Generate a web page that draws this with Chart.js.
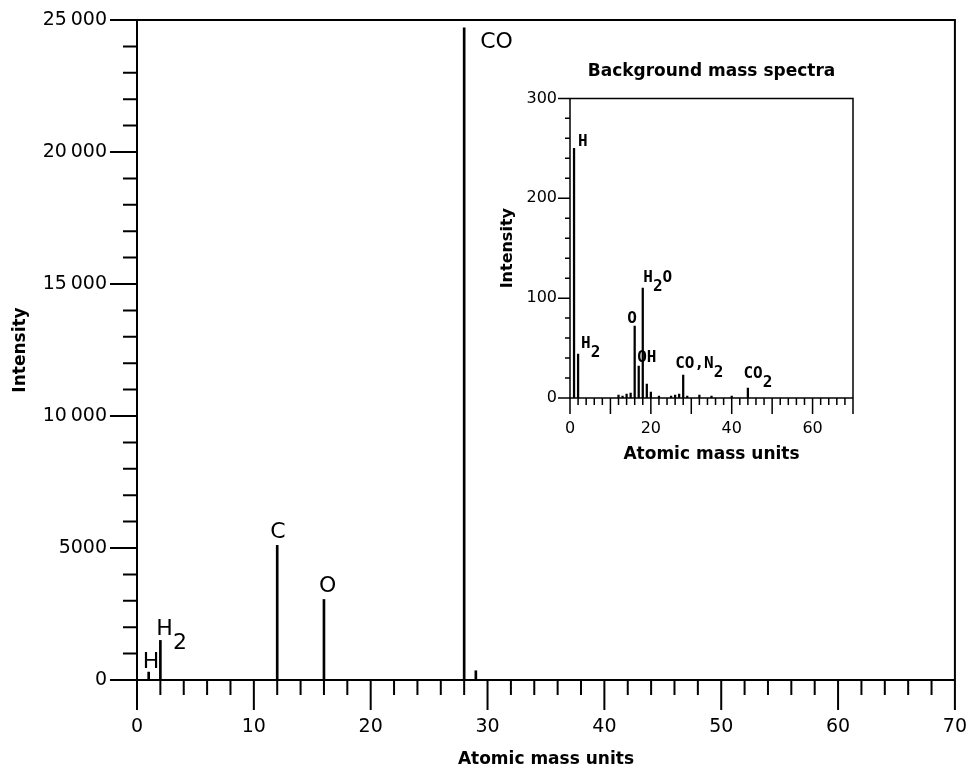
<!DOCTYPE html>
<html lang="en">
<head>
  <meta charset="UTF-8">
  <title>Mass spectrum with background inset</title>
  <script src="https://cdn.jsdelivr.net/npm/chart.js"></script>
  <style>
    html, body { margin: 0; padding: 0; background: #fff; }
    #wrap { position: relative; width: 973px; height: 772px; }
    #main { position: absolute; left: 0; top: 0; }
    #inset { position: absolute; left: 410px; top: 55px; }
  </style>
</head>
<body>
  <div id="wrap">
    <canvas id="main" width="973" height="772"></canvas>
    <canvas id="inset" width="460" height="420"></canvas>
  </div>
  <script>
    // main spectrum
    const massUnits = [1, 2, 12, 16, 28, 29];
    const intensity = [300, 1500, 5100, 3050, 24700, 350];
    const peakNames = ['H', 'H_2', 'C', 'O', 'CO', ''];
    const yTickValues = [0, 5000, 10000, 15000, 20000, 25000];
    const yTickLabels = ['0', '5000', '10\u2009000', '15\u2009000', '20\u2009000', '25\u2009000'];
    const xTickValues = [0, 10, 20, 30, 40, 50, 60, 70];
    const xTickLabels = ['0', '10', '20', '30', '40', '50', '60', '70'];

    // background spectrum (inset)
    const bgMassUnits = [1, 2, 12, 13, 14, 15, 16, 17, 18, 19, 20, 22, 25, 26, 27, 28, 29, 32, 35, 40, 44];
    const bgIntensity = [250, 44, 3, 2, 4, 5, 72, 32, 110, 14, 6, 2, 2, 3, 4, 23, 2, 3, 2, 2, 10];
    const bgPeakNames = ['H', 'H_2', '', '', '', '', 'O', 'OH', 'H_2O', '', '', '', '', '', '', 'CO,N_2', '', '', '', '', 'CO_2'];
    const bgYTickValues = [0, 100, 200, 300];
    const bgYTickLabels = ['0', '100', '200', '300'];
    const bgXTickValues = [0, 20, 40, 60];
    const bgXTickLabels = ['0', '20', '40', '60'];

    // label placement relative to the top of each stick [dx, dy]
    const mainLabelOffsets = { 'H': [-6, -4], 'H_2': [-4, -5], 'C': [-7, -7], 'O': [-5, -7], 'CO': [16, 20] };
    const bgLabelOffsets = { 'H': [4, -2], 'H_2': [3, -6], 'O': [-7.5, -3], 'OH': [-1.5, -4], 'H_2O': [0.5, -6], 'CO,N_2': [-8, -7], 'CO_2': [-4.5, -10] };

    function steps(min, max, step) {
      const out = [];
      for (let v = min; v <= max + 1e-9; v += step) out.push({ value: v });
      return out;
    }

    function drawRich(ctx, text, x, y, subShift) {
      let cx = x;
      text.split(/(_.)/).filter(Boolean).forEach(p => {
        const sub = p[0] === '_';
        const s = sub ? p.slice(1) : p;
        ctx.fillText(s, cx, sub ? y + subShift : y);
        cx += ctx.measureText(s).width;
      });
    }

    // frame, major/minor ticks and peak labels
    const spectrumFrame = {
      id: 'spectrumFrame',
      afterDatasetsDraw(chart, args, o) {
        const { ctx, chartArea: a } = chart;
        const x = chart.scales.x, y = chart.scales.y;
        ctx.save();
        ctx.strokeStyle = '#000';
        ctx.lineWidth = o.lineWidth;
        ctx.beginPath();
        ctx.rect(a.left, a.top, a.right - a.left, a.bottom - a.top);
        x.ticks.forEach(t => {
          const px = x.getPixelForValue(t.value);
          const len = t.value % o.xMajor === 0 ? o.xMajorLen : o.xMinorLen;
          ctx.moveTo(px, a.bottom);
          ctx.lineTo(px, a.bottom + len);
        });
        y.ticks.forEach(t => {
          const py = y.getPixelForValue(t.value);
          const len = t.value % o.yMajor === 0 ? o.yMajorLen : o.yMinorLen;
          ctx.moveTo(a.left, py);
          ctx.lineTo(a.left - len, py);
        });
        ctx.stroke();

        ctx.fillStyle = '#000';
        ctx.font = o.labelFont;
        ctx.textAlign = 'left';
        ctx.textBaseline = 'alphabetic';
        const pts = chart.data.datasets[0].data;
        o.names.forEach((name, i) => {
          if (!name) return;
          const off = o.offsets[name];
          const px = x.getPixelForValue(pts[i].x) + off[0];
          const py = y.getPixelForValue(pts[i].y) + off[1];
          drawRich(ctx, name, px, py, o.subShift);
        });
        ctx.restore();
      }
    };

    function tickLabel(values, labels) {
      return v => {
        const i = values.indexOf(v);
        return i < 0 ? '' : labels[i];
      };
    }

    new Chart(document.getElementById('main'), {
      type: 'bar',
      data: {
        datasets: [{
          data: massUnits.map((m, i) => ({ x: m, y: intensity[i] })),
          backgroundColor: '#000',
          barThickness: 2
        }]
      },
      options: {
        responsive: false,
        animation: false,
        layout: { padding: { top: 20, right: 16, left: 0, bottom: 0 } },
        plugins: {
          legend: { display: false },
          tooltip: { enabled: false },
          spectrumFrame: {
            lineWidth: 2,
            xMajor: 10, xMajorLen: 30, xMinorLen: 15,
            yMajor: 5000, yMajorLen: 27, yMinorLen: 14,
            labelFont: '22px "DejaVu Sans"',
            subShift: 14,
            names: peakNames,
            offsets: mainLabelOffsets
          }
        },
        scales: {
          x: {
            type: 'linear', min: 0, max: 70, offset: false,
            afterBuildTicks: s => { s.ticks = steps(0, 70, 2); },
            afterFit: s => { s.height = 92; },
            grid: { display: false, drawTicks: true, tickLength: 30, offset: false },
            border: { display: false },
            ticks: {
              autoSkip: false, maxRotation: 0, padding: 6, color: '#000',
              font: { family: 'DejaVu Sans', size: 19 },
              callback: tickLabel(xTickValues, xTickLabels)
            },
            title: {
              display: true, text: 'Atomic mass units', color: '#000',
              font: { family: 'DejaVu Sans', size: 17, weight: 'bold' },
              padding: { top: 0, bottom: 2 }
            }
          },
          y: {
            min: 0, max: 25000,
            afterBuildTicks: s => { s.ticks = steps(0, 25000, 1000); },
            afterFit: s => { s.width = 137; },
            grid: { display: false, drawTicks: true, tickLength: 27 },
            border: { display: false },
            ticks: {
              autoSkip: false, padding: 3, color: '#000',
              font: { family: 'DejaVu Sans', size: 19 },
              callback: tickLabel(yTickValues, yTickLabels)
            },
            title: {
              display: true, text: 'Intensity', color: '#000',
              font: { family: 'DejaVu Sans', size: 17, weight: 'bold' },
              padding: { top: 10, bottom: 0 }
            }
          }
        }
      },
      plugins: [spectrumFrame]
    });

    new Chart(document.getElementById('inset'), {
      type: 'bar',
      data: {
        datasets: [{
          data: bgMassUnits.map((m, i) => ({ x: m, y: bgIntensity[i] })),
          backgroundColor: '#000',
          barThickness: 1.6
        }]
      },
      options: {
        responsive: false,
        animation: false,
        layout: { padding: { top: 0, right: 17, left: 0, bottom: 0 } },
        plugins: {
          legend: { display: false },
          tooltip: { enabled: false },
          title: {
            display: true, fullSize: false, align: 'center',
            text: 'Background mass spectra', color: '#000',
            font: { family: 'DejaVu Sans', size: 17, weight: 'bold' },
            padding: { top: 6, bottom: 17 }
          },
          spectrumFrame: {
            lineWidth: 1.5,
            xMajor: 10, xMajorLen: 16, xMinorLen: 7,
            yMajor: 100, yMajorLen: 12, yMinorLen: 5,
            labelFont: 'bold 16px "DejaVu Sans Mono"',
            subShift: 9,
            names: bgPeakNames,
            offsets: bgLabelOffsets
          }
        },
        scales: {
          x: {
            type: 'linear', min: 0, max: 70, offset: false,
            afterBuildTicks: s => { s.ticks = steps(0, 70, 2); },
            afterFit: s => { s.height = 77; },
            grid: { display: false, drawTicks: true, tickLength: 16, offset: false },
            border: { display: false },
            ticks: {
              autoSkip: false, maxRotation: 0, padding: 5, color: '#000',
              font: { family: 'DejaVu Sans', size: 16 },
              callback: tickLabel(bgXTickValues, bgXTickLabels)
            },
            title: {
              display: true, text: 'Atomic mass units', color: '#000',
              font: { family: 'DejaVu Sans', size: 17, weight: 'bold' },
              padding: { top: 0, bottom: 10 }
            }
          },
          y: {
            min: 0, max: 300,
            afterBuildTicks: s => { s.ticks = steps(0, 300, 20); },
            afterFit: s => { s.width = 160; },
            grid: { display: false, drawTicks: true, tickLength: 12 },
            border: { display: false },
            ticks: {
              autoSkip: false, padding: 1, color: '#000',
              font: { family: 'DejaVu Sans', size: 16 },
              callback: tickLabel(bgYTickValues, bgYTickLabels)
            },
            title: {
              display: true, text: 'Intensity', color: '#000',
              font: { family: 'DejaVu Sans', size: 16, weight: 'bold' },
              padding: { top: 88, bottom: 0 }
            }
          }
        }
      },
      plugins: [spectrumFrame]
    });
  </script>
</body>
</html>
